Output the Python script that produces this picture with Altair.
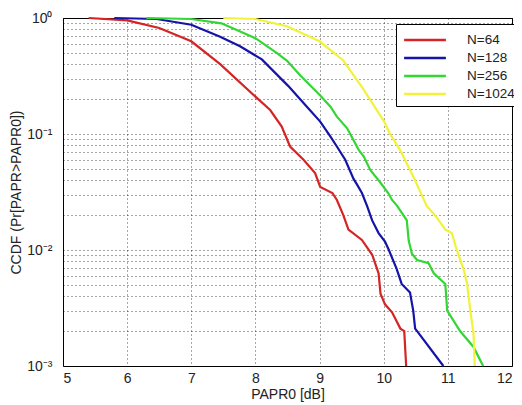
import altair as alt
import pandas as pd

series_names = ["N=64", "N=128", "N=256", "N=1024"]
series_colors = ["#d42424", "#1414a8", "#33d633", "#f2f23a"]

red_x = [5.4, 6.0, 6.5, 7.0, 7.45, 8.0, 8.23, 8.41, 8.54, 8.75, 8.93, 9.01, 9.2, 9.27, 9.37, 9.45, 9.66, 9.82, 9.92, 9.95, 10.02, 10.13, 10.26, 10.32, 10.35]
red_y = [1.0, 0.955, 0.82, 0.63, 0.40, 0.21, 0.161, 0.116, 0.078, 0.060, 0.046, 0.035, 0.031, 0.027, 0.020, 0.015, 0.0122, 0.0091, 0.0063, 0.0042, 0.0034, 0.0029, 0.0021, 0.002, 0.001]

blue_x = [5.8, 6.46, 7.0, 7.45, 7.76, 8.1, 8.51, 8.83, 9.01, 9.17, 9.27, 9.4, 9.53, 9.58, 9.66, 9.74, 9.82, 9.92, 10.02, 10.08, 10.2, 10.28, 10.41, 10.46, 10.49, 10.55, 10.93]
blue_y = [1.0, 0.98, 0.875, 0.69, 0.57, 0.44, 0.26, 0.165, 0.128, 0.095, 0.078, 0.060, 0.041, 0.037, 0.031, 0.024, 0.018, 0.014, 0.0118, 0.010, 0.0069, 0.0051, 0.0043, 0.003, 0.0021, 0.0019, 0.001]

green_x = [6.3, 7.0, 7.47, 8.0, 8.33, 8.49, 8.7, 9.01, 9.17, 9.27, 9.43, 9.61, 9.69, 9.79, 9.95, 10.07, 10.13, 10.21, 10.36, 10.39, 10.44, 10.52, 10.7, 10.78, 10.96, 10.99, 11.19, 11.4, 11.55]
green_y = [1.0, 0.98, 0.9, 0.67, 0.5, 0.43, 0.32, 0.215, 0.172, 0.141, 0.112, 0.073, 0.064, 0.049, 0.038, 0.031, 0.027, 0.024, 0.018, 0.012, 0.0093, 0.0082, 0.0077, 0.0063, 0.0051, 0.003, 0.002, 0.00146, 0.001]

yellow_x = [7.5, 8.0, 8.49, 9.0, 9.37, 9.69, 10.0, 10.1, 10.26, 10.47, 10.67, 10.73, 10.83, 10.96, 11.06, 11.14, 11.25, 11.3, 11.35, 11.4, 11.42]
yellow_y = [1.0, 0.98, 0.85, 0.63, 0.43, 0.24, 0.13, 0.10, 0.072, 0.042, 0.024, 0.022, 0.019, 0.015, 0.014, 0.01, 0.0067, 0.0051, 0.003, 0.0019, 0.001]

x_ticks = [5, 6, 7, 8, 9, 10, 11, 12]
y_ticks = [round(m * 10 ** e, 6) for e in (-3, -2, -1) for m in range(1, 10)] + [1.0]

rows = []
for name, xs, ys in zip(series_names, [red_x, blue_x, green_x, yellow_x], [red_y, blue_y, green_y, yellow_y]):
    for i, (xv, yv) in enumerate(zip(xs, ys)):
        rows.append({"series": name, "x": xv, "y": yv, "i": i})
df = pd.DataFrame(rows)

font = "Liberation Sans"

label_expr = ("datum.value == 1 ? '10⁰' : datum.value == 0.1 ? '10⁻¹' : "
              "datum.value == 0.01 ? '10⁻²' : datum.value == 0.001 ? '10⁻³' : ''")

chart = alt.Chart(df).mark_line(strokeWidth=2.2).encode(
    x=alt.X("x:Q", scale=alt.Scale(domain=[5, 12], nice=False),
            axis=alt.Axis(values=x_ticks, title="PAPR0 [dB]", grid=True, ticks=False,
                          labelPadding=5, titlePadding=2, format="d")),
    y=alt.Y("y:Q", scale=alt.Scale(type="log", domain=[0.001, 1], nice=False),
            axis=alt.Axis(values=y_ticks, title="CCDF (Pr[PAPR>PAPR0])", grid=True, ticks=False,
                          labelExpr=label_expr, labelPadding=11, titlePadding=3)),
    color=alt.Color("series:N", scale=alt.Scale(domain=series_names, range=series_colors),
                    legend=alt.Legend(title=None, orient="none", legendX=333, legendY=6,
                                      symbolType="M-2.2,0H2.2", symbolStrokeWidth=2.5,
                                      symbolSize=361, labelFontSize=13.5, labelFont=font,
                                      labelColor="#222",
                                      strokeColor="black", fillColor="white", padding=5,
                                      rowPadding=0, symbolOffset=13, labelOffset=31)),
    order="i:Q",
).properties(
    width=449, height=348,
    autosize=alt.AutoSizeParams(type="none"),
    padding={"left": 55, "top": 10, "right": 2, "bottom": 38},
).configure_view(
    stroke="black", strokeWidth=1
).configure_axis(
    labelFont=font, titleFont=font, labelFontSize=14, titleFontSize=14,
    titleFontWeight="normal", labelColor="#222", titleColor="#222",
    gridColor="#000", gridDash=[1, 3], gridOpacity=0.7, gridWidth=1,
    domain=False
)

chart.save("out.html", embed_options={"renderer": "svg", "actions": False})
